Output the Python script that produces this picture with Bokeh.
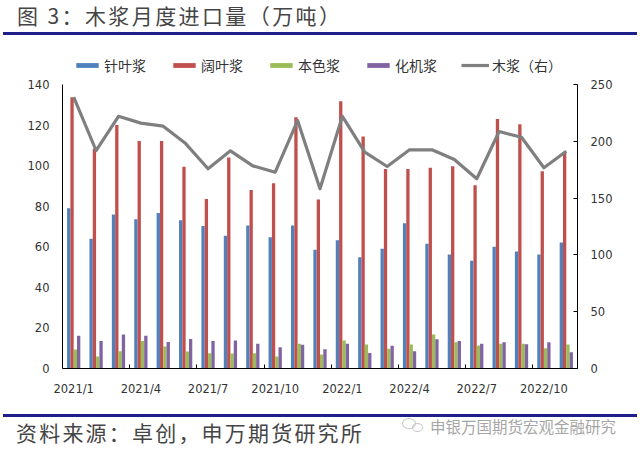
from bokeh.plotting import figure
from bokeh.layouts import column
from bokeh.models import (ColumnDataSource, Range1d, LinearAxis, FixedTicker,
                          Legend, LegendItem, Div)
from bokeh.transform import dodge
from bokeh.embed import file_html
from bokeh.resources import INLINE

months = ["2021/1", "2021/2", "2021/3", "2021/4", "2021/5", "2021/6",
          "2021/7", "2021/8", "2021/9", "2021/10", "2021/11", "2021/12",
          "2022/1", "2022/2", "2022/3", "2022/4", "2022/5", "2022/6",
          "2022/7", "2022/8", "2022/9", "2022/10", "2022/11"]

needle = [79.0, 64.0, 75.9, 73.6, 76.7, 73.1, 70.3, 65.4, 70.5, 64.7, 70.5, 58.6,
          63.2, 54.9, 59.0, 71.6, 61.5, 56.2, 53.1, 60.0, 57.7, 56.2, 62.1]
hardwood = [133.7, 108.3, 120.0, 112.2, 112.2, 99.4, 83.6, 104.0, 88.0, 91.3, 123.8, 83.3,
            131.7, 114.4, 98.4, 98.4, 98.9, 99.7, 90.3, 123.0, 120.4, 97.2, 106.8]
unbleached = [9.4, 5.9, 8.5, 13.6, 10.8, 8.4, 7.5, 7.4, 7.5, 5.9, 12.2, 6.9,
              13.8, 11.8, 9.7, 11.8, 16.8, 13.0, 11.3, 12.2, 12.2, 10.0, 11.8]
chemimech = [16.1, 13.5, 16.7, 16.1, 13.1, 14.6, 13.6, 13.8, 12.2, 10.5, 11.7, 9.5,
             12.2, 7.7, 11.2, 8.5, 14.4, 13.6, 12.2, 13.0, 12.0, 13.0, 8.0]
total = [238.8, 191.9, 222.0, 216.0, 213.3, 198.0, 175.8, 191.6, 178.4, 172.8, 218.3, 158.2,
         222.0, 190.4, 177.8, 192.5, 192.5, 184.0, 167.0, 208.6, 203.6, 176.7, 191.3]

left_ticks = [0, 20, 40, 60, 80, 100, 120, 140]
right_ticks = [0, 50, 100, 150, 200, 250]

series_names = ["针叶浆", "阔叶浆", "本色浆", "化机浆"]
line_name = "木浆（右）"
title_text = "图 3：木浆月度进口量（万吨）"
source_text = "资料来源：卓创，申万期货研究所"
watermark_text = "申银万国期货宏观金融研究"

colors = ["#4F81BD", "#C0504D", "#9BBB59", "#8064A2"]
line_color = "#7F7F7F"
rule_color = "#1F1F8C"
cjk = "Noto Sans CJK SC"
tick_font = "DejaVu Sans"

W = 640
HH, MH, FH = 45, 360, 49          # header / chart / footer heights
FR_TOP, AX_TOP, AX_BOT = 0, 39, 323   # frame top, top of value axes, zero line (chart-local px)

# ---- header (title + rule)
header = Div(width=W, height=HH, margin=0, text=(
    f'<div style="position:relative;width:{W}px;height:{HH}px;overflow:hidden;">'
    f'<div style="position:absolute;left:17px;top:1px;white-space:nowrap;letter-spacing:2.4px;'
    f'font-family:\'{cjk}\';font-size:21px;line-height:28px;color:#454545;">{title_text}</div>'
    f'<div style="position:absolute;left:3px;top:32px;width:634px;height:3px;'
    f'background:{rule_color};"></div></div>'))

# ---- main chart
idx = list(range(len(months)))
src = ColumnDataSource(dict(x=idx, needle=needle, hardwood=hardwood,
                            unbleached=unbleached, chemimech=chemimech, total=total))

extra_px = AX_TOP - FR_TOP
axis_px = AX_BOT - AX_TOP
ly_top = left_ticks[-1] + extra_px * (left_ticks[-1] - left_ticks[0]) / axis_px
ry_top = right_ticks[-1] + extra_px * (right_ticks[-1] - right_ticks[0]) / axis_px

p = figure(width=W, height=MH, output_backend="svg", toolbar_location=None,
           x_range=Range1d(-0.5, len(months) - 0.5), y_range=Range1d(left_ticks[0], ly_top),
           min_border_left=62, min_border_right=63, min_border_top=FR_TOP,
           min_border_bottom=MH - AX_BOT)
p.extra_y_ranges = {"right": Range1d(right_ticks[0], ry_top)}
p.outline_line_color = None
p.xgrid.visible = False
p.ygrid.visible = False

xa = p.xaxis[0]
xa.ticker = FixedTicker(ticks=idx[::3],
                        minor_ticks=[i + 0.5 for i in idx[2::3] if i + 0.5 < len(months) - 0.5])
xa.major_label_overrides = {i: months[i] for i in idx[::3]}
xa.major_tick_line_color = None
xa.minor_tick_in = 4
xa.minor_tick_out = 0
xa.minor_tick_line_color = "#000000"
xa.axis_line_color = "#000000"
xa.major_label_text_font = tick_font
xa.major_label_text_font_size = "11.5px"
xa.major_label_text_color = "#333333"
xa.major_label_standoff = 7

ya = p.yaxis[0]
ya.ticker = FixedTicker(ticks=left_ticks)
ya.bounds = (left_ticks[0], left_ticks[-1])
ya.major_tick_in = 0
ya.major_tick_out = 0
ya.minor_tick_line_color = None
ya.axis_line_color = "#000000"
ya.major_label_text_font = tick_font
ya.major_label_text_font_size = "11.5px"
ya.major_label_text_color = "#333333"
ya.major_label_standoff = 13

ra = LinearAxis(y_range_name="right", ticker=FixedTicker(ticks=right_ticks),
                bounds=(right_ticks[0], right_ticks[-1]))
ra.major_tick_in = 4
ra.major_tick_out = 0
ra.minor_tick_line_color = None
ra.axis_line_color = "#000000"
ra.major_tick_line_color = "#000000"
ra.major_label_text_font = tick_font
ra.major_label_text_font_size = "11.5px"
ra.major_label_text_color = "#333333"
ra.major_label_standoff = 13
p.add_layout(ra, "right")

bw = 0.148
offsets = [-1.5 * bw, -0.5 * bw, 0.5 * bw, 1.5 * bw]
cols = ["needle", "hardwood", "unbleached", "chemimech"]
bars = []
for c, off, colr in zip(cols, offsets, colors):
    r = p.vbar(x=dodge("x", off, range=p.x_range), top=c, width=bw, bottom=0,
               source=src, fill_color=colr, line_color=None)
    bars.append(r)

ln = p.line(x="x", y="total", source=src, y_range_name="right",
            line_color=line_color, line_width=3.2, line_join="round")

items = [LegendItem(label=n, renderers=[r]) for n, r in zip(series_names, bars)]
items.append(LegendItem(label=line_name, renderers=[ln]))
legend = Legend(items=items, location=(11, 293), orientation="horizontal",
                glyph_width=28, glyph_height=6, label_standoff=3, spacing=24,
                padding=0, margin=0, border_line_color=None, background_fill_alpha=0,
                label_text_font=cjk, label_text_font_size="14px",
                label_text_color="#333333", label_height=14)
p.add_layout(legend, "center")

# ---- footer (rule + source + watermark)
footer = Div(width=W, height=FH, margin=0, text=(
    f'<div style="position:relative;width:{W}px;height:{FH}px;overflow:hidden;">'
    f'<div style="position:absolute;left:3px;top:9px;width:634px;height:3px;'
    f'background:{rule_color};"></div>'
    f'<div style="position:absolute;left:16px;top:13px;white-space:nowrap;letter-spacing:2.2px;'
    f'font-family:\'{cjk}\';font-size:21px;line-height:28px;color:#454545;">{source_text}</div>'
    f'<div style="position:absolute;left:402px;top:13px;width:14px;height:11px;'
    f'border:1.2px solid #C8C8C8;border-radius:50%;"></div>'
    f'<div style="position:absolute;left:412px;top:18px;width:11px;height:9px;'
    f'border:1.2px solid #C8C8C8;border-radius:50%;"></div>'
    f'<div style="position:absolute;left:430px;top:11px;white-space:nowrap;'
    f'font-family:\'{cjk}\';font-size:15.5px;line-height:20px;color:#A6A6A6;">{watermark_text}</div>'
    f'</div>'))

layout = column(header, p, footer, spacing=0)
open("out.html", "w").write(file_html(layout, INLINE))
